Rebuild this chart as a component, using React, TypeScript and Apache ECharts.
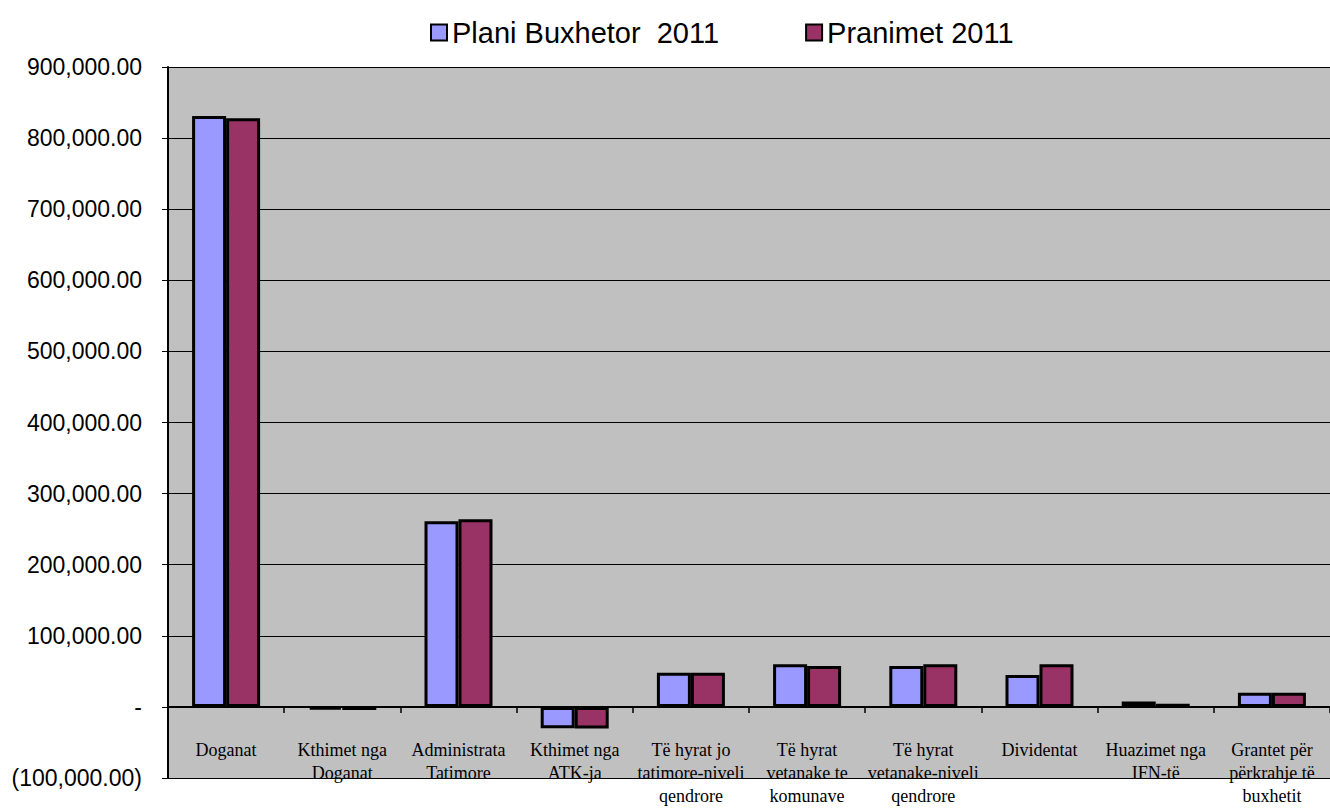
import React, { useEffect, useRef } from "react";
import * as echarts from "echarts";

const categories = [
  "Doganat",
  "Kthimet nga\nDoganat",
  "Administrata\nTatimore",
  "Kthimet nga\nATK-ja",
  "Të hyrat jo\ntatimore-niveli\nqendrore",
  "Të hyrat\nvetanake te\nkomunave",
  "Të hyrat\nvetanake-niveli\nqendrore",
  "Dividentat",
  "Huazimet nga\nIFN-të",
  "Grantet për\npërkrahje të\nbuxhetit",
];

const planiBuxhetor = [831000, -4000, 261000, -30000, 48000, 60000, 57500, 45000, 7500, 20000];
const pranimet = [828000, -4500, 264000, -30500, 48000, 57500, 60000, 60000, 4500, 20000];

const seriesNames = ["Plani Buxhetor  2011", "Pranimet 2011"];

function fmt(v: number): string {
  return v.toLocaleString("en-US", { minimumFractionDigits: 2, maximumFractionDigits: 2 });
}

export default function App() {
  const ref = useRef<HTMLDivElement>(null);
  useEffect(() => {
    if (!ref.current) return;
    const chart = echarts.init(ref.current, undefined, { renderer: "svg" });
    const sans = "'Liberation Sans', Arial, sans-serif";
    chart.setOption({
      animation: false,
      backgroundColor: "#ffffff",
      legend: {
        top: 13,
        left: 425,
        itemWidth: 16,
        itemHeight: 16,
        itemGap: 86,
        icon: "rect",
        textStyle: { fontFamily: sans, fontSize: 29, color: "#000" },
        itemStyle: { borderColor: "#000", borderWidth: 2 },
        data: seriesNames,
      },
      grid: {
        left: 168,
        right: 0,
        top: 67,
        bottom: 30,
        show: true,
        backgroundColor: "#C0C0C0",
        borderWidth: 0,
        containLabel: false,
        outerBoundsMode: "none",
      },
      xAxis: {
        type: "category",
        data: categories,
        axisLine: { onZero: true, lineStyle: { color: "#000", width: 2 } },
        axisTick: { show: true, length: 6, lineStyle: { color: "#000", width: 1.5 } },
        axisLabel: {
          interval: 0,
          margin: -40,
          verticalAlign: "top",
          fontFamily: "'Liberation Serif', 'Times New Roman', serif",
          fontSize: 18,
          lineHeight: 23,
          color: "#000",
        },
      },
      yAxis: {
        type: "value",
        min: -100000,
        max: 900000,
        interval: 100000,
        axisLine: { show: true, lineStyle: { color: "#000", width: 2 } },
        axisTick: { show: true, length: 6, lineStyle: { color: "#000" } },
        splitLine: { show: true, lineStyle: { color: "#000", width: 1 } },
        axisLabel: {
          margin: 26,
          fontFamily: sans,
          fontSize: 23,
          color: "#000",
          formatter: (v: number) => (v === 0 ? "-" : v < 0 ? "(" + fmt(-v) + ")" : fmt(v)),
        },
      },
      series: [
        {
          name: seriesNames[0],
          type: "bar",
          data: planiBuxhetor,
          barWidth: 34,
          barGap: "0%",
          itemStyle: { color: "#9999FF", borderColor: "#000", borderWidth: 3 },
        },
        {
          name: seriesNames[1],
          type: "bar",
          data: pranimet,
          barWidth: 34,
          barGap: "0%",
          itemStyle: { color: "#993366", borderColor: "#000", borderWidth: 3 },
        },
      ],
    });
    return () => chart.dispose();
  }, []);
  return (
    <div
      ref={ref}
      style={{ position: "fixed", left: 0, top: 0, width: 1330, height: 808 }}
    />
  );
}
